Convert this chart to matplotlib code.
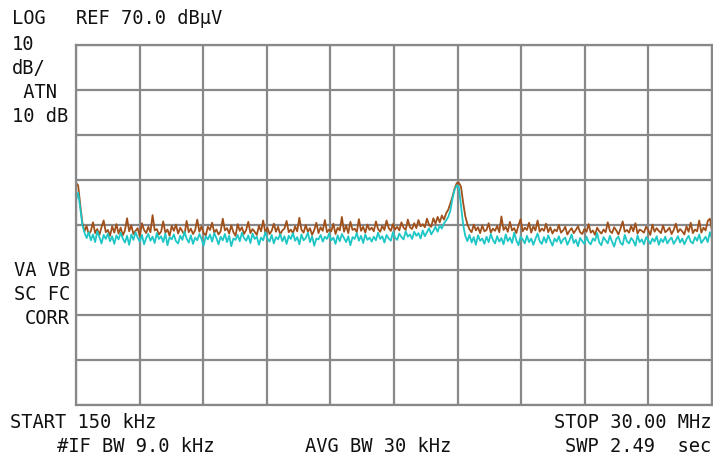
import numpy as np
import matplotlib
matplotlib.use("Agg")
import matplotlib.pyplot as plt

# sweep settings
f_start = 0.15   # MHz
f_stop = 30.0    # MHz
ref_level = 70.0  # dBuV
db_per_div = 10

# peak trace (dBuV), 300 sweep points
peak_trace = [
    39.4, 38.8, 34.5, 30.5, 28.6, 29.8, 27.9, 28.7, 30.6, 28.2, 29.1, 27.8, 29.5, 31.0, 28.4, 28.9, 27.6, 29.7, 28.3, 30.2,
    28.1, 29.4, 27.7, 28.8, 31.5, 28.6, 29.9, 28.0, 28.7, 29.3, 27.5, 30.4, 28.9, 28.2, 29.6, 28.4, 32.2, 28.8, 29.1, 27.9,
    28.5, 30.8, 28.3, 29.0, 27.6, 29.8, 28.7, 30.1, 28.1, 29.4, 28.6, 27.8, 30.9, 28.4, 29.2, 28.0, 28.8, 31.2, 28.5, 29.7,
    28.2, 27.7, 29.6, 28.9, 30.5, 28.3, 29.0, 27.9, 28.6, 31.4, 28.8, 29.3, 28.1, 29.9, 28.4, 27.6, 30.2, 28.7, 29.5, 28.0,
    28.9, 30.7, 28.2, 29.1, 28.5, 27.8, 29.8, 28.6, 31.0, 28.3, 29.4, 28.0, 28.7, 30.3, 28.5, 29.6, 27.9, 28.8, 29.2, 30.9,
    28.4, 29.0, 28.1, 29.7, 28.6, 31.6, 28.9, 28.3, 30.0, 28.5, 29.3, 27.8, 28.9, 30.5, 28.2, 29.5, 28.7, 31.1, 28.4, 29.0,
    28.6, 30.3, 28.0, 29.4, 28.8, 31.8, 28.5, 29.9, 28.2, 30.7, 28.9, 29.2, 28.4, 31.3, 28.7, 29.6, 28.3, 30.1, 28.9, 29.4,
    28.6, 30.8, 29.1, 28.5, 29.8, 28.9, 31.0, 29.3, 28.7, 30.2, 29.0, 29.6, 28.8, 30.6, 29.4, 28.9, 31.2, 29.5, 29.1, 30.4,
    29.3, 31.1, 29.7, 30.2, 29.5, 31.4, 30.0, 29.6, 31.5, 30.3, 31.8, 30.6, 32.1, 31.2, 32.6, 33.4, 34.8, 36.3, 38.1, 39.3,
    39.4, 38.5, 35.0, 32.0, 30.2, 29.0, 28.4, 30.1, 28.8, 29.5, 28.2, 29.9, 28.6, 28.9, 30.4, 28.3, 29.2, 28.7, 29.8, 28.4,
    31.9, 28.9, 29.6, 28.5, 30.7, 28.8, 29.3, 28.2, 29.9, 31.3, 28.6, 29.4, 28.9, 30.5, 28.3, 29.7, 28.8, 31.0, 28.5, 29.2,
    28.7, 30.3, 28.4, 29.5, 28.1, 29.0, 28.6, 30.0, 28.3, 28.8, 29.6, 27.9, 28.7, 29.3, 28.2, 28.9, 29.7, 28.4, 28.0, 29.1,
    28.5, 30.2, 28.3, 28.8, 27.8, 29.4, 28.6, 28.1, 29.0, 28.4, 30.6, 28.7, 28.2, 29.5, 28.8, 27.9, 29.2, 30.8, 28.5, 28.9,
    28.3, 29.8, 28.6, 30.4, 28.1, 29.0, 28.7, 28.3, 29.6, 28.9, 27.8, 30.1, 28.5, 29.3, 28.7, 28.2, 29.9, 28.4, 28.8, 29.4,
    28.0, 28.9, 30.3, 28.4, 29.1, 28.6, 27.9, 29.7, 28.5, 30.5, 28.2, 29.0, 28.6, 31.0, 28.3, 29.4, 28.8, 30.9, 31.4, 28.7,
]

# average trace (dBuV)
avg_trace = [
    35.5, 37.2, 33.8, 30.0, 28.3, 27.1, 28.4, 26.6, 27.9, 26.2, 28.6, 27.3, 25.9, 27.8, 26.9, 28.1, 26.4, 27.5, 25.8, 27.7,
    26.8, 28.3, 27.0, 26.1, 27.6, 25.6, 27.9, 26.7, 28.4, 27.2, 26.3, 27.8, 25.7, 27.1, 28.0, 26.5, 27.4, 26.0, 28.2, 26.9,
    27.5, 26.2, 28.1, 25.5, 27.3, 26.8, 27.9, 26.4, 25.9, 27.6, 26.7, 28.5, 27.0, 26.1, 27.7, 25.8, 27.2, 26.6, 28.0, 26.9,
    25.4, 27.5, 26.8, 27.9, 26.3, 28.2, 27.1, 25.7, 27.4, 26.6, 28.0, 26.2, 27.6, 25.3, 27.0, 26.7, 27.8, 26.4, 28.3, 27.1,
    26.5, 27.7, 26.0, 28.1, 26.9, 27.4, 25.6, 27.2, 26.6, 28.4, 27.0, 26.3, 27.8, 25.9, 27.3, 26.8, 28.0, 26.4, 27.5, 25.8,
    27.6, 26.9, 28.2, 26.5, 27.3, 25.7, 27.9, 26.6, 27.1, 28.3, 26.2, 27.5, 25.4, 27.0, 26.8, 27.8, 26.3, 27.4, 26.9, 28.1,
    26.6, 27.2, 25.8, 27.7, 26.4, 28.0, 27.1, 26.2, 27.5, 25.5, 27.3, 26.9, 28.2, 26.5, 27.6, 26.0, 27.9, 26.7, 27.2, 26.3,
    27.4, 26.6, 28.3, 26.9, 27.5, 26.1, 27.8, 27.0, 26.5, 28.4, 27.2, 26.7, 28.1, 27.3, 26.8, 28.6, 27.4, 27.9, 26.9, 28.5,
    27.6, 28.2, 27.0, 28.8, 27.5, 28.4, 29.3, 27.9, 28.7, 29.6, 28.5, 29.9, 29.2, 30.4, 31.0, 31.8, 33.2, 35.9, 37.8, 38.8,
    38.4, 34.2, 30.1, 27.6, 26.4, 27.8, 26.1, 27.3, 25.6, 27.7, 26.5, 27.0, 25.8, 27.4, 26.2, 28.0, 26.7, 25.9, 27.5, 26.3,
    27.1, 25.7, 27.9, 26.4, 27.2, 26.0, 28.3, 26.6, 25.5, 27.4, 26.8, 25.9, 27.6, 26.2, 27.0, 25.6, 26.9, 28.1, 26.4, 25.8,
    27.3, 26.1, 27.7, 26.5, 25.4, 27.0, 26.3, 27.5, 25.9, 26.8, 27.2, 25.6, 26.6, 27.9, 26.0, 26.7, 25.3, 27.1, 26.4, 25.8,
    27.4, 26.2, 25.7, 27.0, 26.5, 28.2, 26.1, 25.5, 27.3, 26.6, 25.9, 27.6, 26.3, 25.2, 26.9, 27.4, 26.0, 25.6, 27.8, 26.4,
    25.9, 27.1, 26.5, 25.4, 27.7, 26.2, 26.8, 25.7, 27.3, 26.6, 25.8, 27.0, 26.3, 27.5, 25.6, 26.9, 26.2, 27.4, 25.9, 26.7,
    27.2, 25.8, 26.6, 27.5, 26.1, 27.0, 25.7, 26.8, 27.6, 26.3, 25.9, 27.3, 26.5, 27.9, 26.0, 26.7, 27.4, 26.2, 28.4, 27.0,
]

freqs = np.linspace(f_start, f_stop, len(peak_trace))

W, H = 713, 459
fig = plt.figure(figsize=(W / 100, H / 100), dpi=100)
fig.patch.set_facecolor("white")

# screen graticule area in pixels
left, right, top, bottom = 76, 712, 45, 405
ax = fig.add_axes([left / W, 1 - bottom / H, (right - left) / W, (bottom - top) / H])

grid_col = "#888888"
ax.set_xlim(f_start, f_stop)
ax.set_ylim(ref_level - 8 * db_per_div, ref_level)
ax.set_xticks(np.linspace(f_start, f_stop, 11))
ax.set_yticks(np.arange(ref_level - 8 * db_per_div, ref_level + 1, db_per_div))
ax.grid(True, color=grid_col, linewidth=1.6)
ax.tick_params(length=0, labelbottom=False, labelleft=False)
for s in ax.spines.values():
    s.set_color(grid_col)
    s.set_linewidth(1.6)

ax.plot(freqs, peak_trace, color="#a0501a", linewidth=1.3)
ax.plot(freqs, avg_trace, color="#1ec6c6", linewidth=1.3)

mono = "DejaVu Sans Mono"
fs = 13.5


def put(x, y, s, ha="left"):
    fig.text(x / W, 1 - y / H, s, ha=ha, va="center", family=mono,
             fontsize=fs, color="#111111")


# annotations around the screen
put(12, 18, "LOG")
put(76, 18, "REF 70.0 dB\u00b5V")
put(12, 45, "10")
put(12, 69, "dB/")
put(12, 92, " ATN")
put(12, 116, "10 dB")
put(70, 270, "VA VB", ha="right")
put(70, 294, "SC FC", ha="right")
put(70, 318, "CORR", ha="right")
put(10, 423, "START 150 kHz")
put(711, 423, "STOP 30.00 MHz", ha="right")
put(57, 447, "#IF BW 9.0 kHz")
put(305, 447, "AVG BW 30 kHz")
put(711, 447, "SWP 2.49  sec", ha="right")

fig.savefig("out.png", dpi=100)
